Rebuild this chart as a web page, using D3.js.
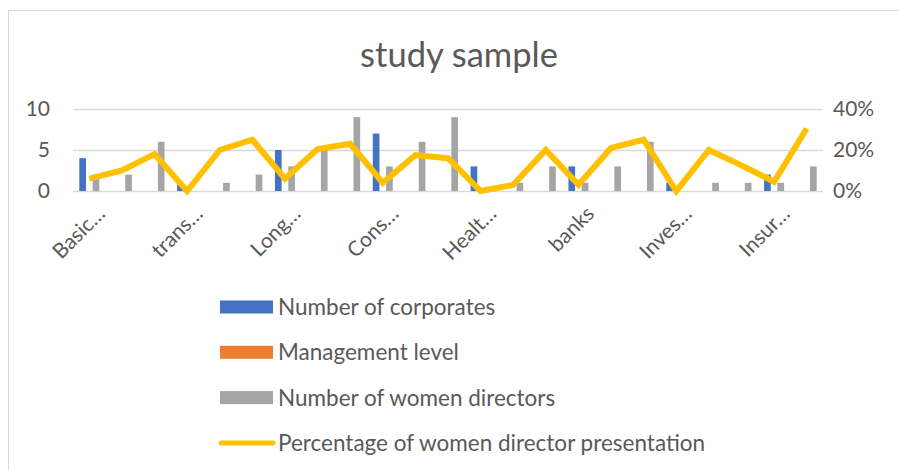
<!DOCTYPE html>
<html>
<head>
<meta charset="utf-8">
<script src="https://cdn.jsdelivr.net/npm/d3@7"></script>
<style>
  body { margin: 0; background: #fff; }
  text { font-family: Lato, "Open Sans", sans-serif; fill: #595959; }
</style>
</head>
<body>
<div id="chart"></div>
<script>
// sectors: every 3rd row carries the visible label
const categories = [
  "Basic…", "Basic… 2", "Basic… 3",
  "trans…", "trans… 2", "trans… 3",
  "Long…", "Long… 2", "Long… 3",
  "Cons…", "Cons… 2", "Cons… 3",
  "Healt…", "Healt… 2", "Healt… 3",
  "banks", "banks 2", "banks 3",
  "Inves…", "Inves… 2", "Inves… 3",
  "Insur…", "Insur… 2"
];
const tickLabels = ["Basic…", "trans…", "Long…", "Cons…", "Healt…", "banks", "Inves…", "Insur…"];

const corporates   = [4, 0, 0, 1, 0, 0, 5, 0, 0, 7, 0, 0, 3, 0, 0, 3, 0, 0, 1, 0, 0, 2, 0];
const management   = [0, 0, 0, 0, 0, 0, 0, 0, 0, 0, 0, 0, 0, 0, 0, 0, 0, 0, 0, 0, 0, 0, 0];
const womenDirs    = [2, 2, 6, 0, 1, 2, 3, 5, 9, 3, 6, 9, 0, 1, 3, 1, 3, 6, 0, 1, 1, 1, 3];
const womenPct     = [0.06, 0.10, 0.18, 0, 0.20, 0.25, 0.06, 0.205, 0.23, 0.04, 0.175, 0.16, 0,
                      0.03, 0.20, 0.03, 0.21, 0.25, 0, 0.20, 0.125, 0.045, 0.305];

const leftTicks = [0, 5, 10];
const rightTicks = [0, 0.2, 0.4];

const barSeries = [
  { name: "Number of corporates", values: corporates, color: "#4472C4" },
  { name: "Management level", values: management, color: "#ED7D31" },
  { name: "Number of women directors", values: womenDirs, color: "#A5A5A5" }
];
const lineName = "Percentage of women director presentation";
const lineColor = "#FFC000";

const W = 899, H = 470;
const plot = { left: 73, right: 823, top: 109, bottom: 191 };
const tickFont = "21px";

const svg = d3.select("#chart").append("svg")
  .attr("width", W).attr("height", H);

// chart frame
svg.append("rect")
  .attr("x", 8.5).attr("y", 10.5)
  .attr("width", W + 20).attr("height", H + 20)
  .attr("fill", "none").attr("stroke", "#d9d9d9");

svg.append("text")
  .attr("x", 459).attr("y", 67)
  .attr("text-anchor", "middle")
  .style("font-size", "34.5px")
  .text("study sample");

const x = d3.scaleBand()
  .domain(categories)
  .range([plot.left, plot.right])
  .paddingInner(0.387)
  .paddingOuter(0.1935);

const xSub = d3.scaleBand()
  .domain(barSeries.map(s => s.name))
  .range([0, x.bandwidth()]);

const y = d3.scaleLinear().domain([0, 10]).range([plot.bottom, plot.top]);
const y2 = d3.scaleLinear().domain([0, 0.4]).range([plot.bottom, plot.top]);

// gridlines
svg.append("g")
  .attr("transform", `translate(${plot.left},0)`)
  .call(d3.axisLeft(y).tickValues(leftTicks).tickSize(-(plot.right - plot.left)).tickFormat(""))
  .call(g => g.select(".domain").remove())
  .selectAll("line").attr("stroke", "#d9d9d9").attr("stroke-width", 1.5);

// left axis
const yAxis = svg.append("g")
  .attr("transform", `translate(${plot.left - 23},0)`)
  .call(d3.axisLeft(y).tickValues(leftTicks).tickSize(0).tickPadding(0));
yAxis.select(".domain").remove();
yAxis.selectAll("text").style("font-size", tickFont).style("fill", "#595959")
  .style("font-family", "Lato, sans-serif");

// right axis
const y2Axis = svg.append("g")
  .attr("transform", `translate(${plot.right + 10},0)`)
  .call(d3.axisRight(y2).tickValues(rightTicks).tickSize(0).tickPadding(0).tickFormat(d3.format(".0%")));
y2Axis.select(".domain").remove();
y2Axis.selectAll("text").style("font-size", tickFont).style("fill", "#595959")
  .style("font-family", "Lato, sans-serif");

// bars
barSeries.forEach(s => {
  svg.append("g").selectAll("rect")
    .data(s.values)
    .join("rect")
    .attr("x", (d, i) => x(categories[i]) + xSub(s.name))
    .attr("width", xSub.bandwidth())
    .attr("y", d => y(d))
    .attr("height", d => y(0) - y(d))
    .attr("fill", s.color);
});

// line
const line = d3.line()
  .x((d, i) => x(categories[i]) + x.bandwidth() / 2)
  .y(d => y2(d));

svg.append("path")
  .datum(womenPct)
  .attr("fill", "none")
  .attr("stroke", lineColor)
  .attr("stroke-width", 6)
  .attr("stroke-linejoin", "miter")
  .attr("d", line);

// x axis labels
const labelCats = categories.filter(c => tickLabels.includes(c));
const xAxis = svg.append("g")
  .attr("transform", `translate(0,${plot.bottom})`)
  .call(d3.axisBottom(x).tickValues(labelCats).tickSize(0).tickPadding(0));
xAxis.select(".domain").remove();
xAxis.selectAll("text")
  .style("font-size", tickFont).style("fill", "#595959")
  .style("font-family", "Lato, sans-serif")
  .attr("text-anchor", "end")
  .attr("dy", null)
  .attr("y", 0)
  .attr("transform", d => `translate(17,24) rotate(-45)`);

// legend
const legend = svg.append("g").attr("transform", "translate(220,307)");
const rowGap = 45.3;
barSeries.forEach((s, i) => {
  const g = legend.append("g").attr("transform", `translate(0,${i * rowGap})`);
  g.append("rect").attr("x", 0).attr("y", -6.5).attr("width", 53).attr("height", 13).attr("fill", s.color);
  g.append("text").attr("x", 58).attr("y", 8).style("font-size", "22.5px").text(s.name);
});
const lg = legend.append("g").attr("transform", `translate(0,${3 * rowGap})`);
lg.append("line").attr("x1", 1).attr("x2", 53).attr("y1", 0).attr("y2", 0)
  .attr("stroke", lineColor).attr("stroke-width", 5).attr("stroke-linecap", "round");
lg.append("text").attr("x", 58).attr("y", 8).style("font-size", "22.5px").text(lineName);
</script>
</body>
</html>
